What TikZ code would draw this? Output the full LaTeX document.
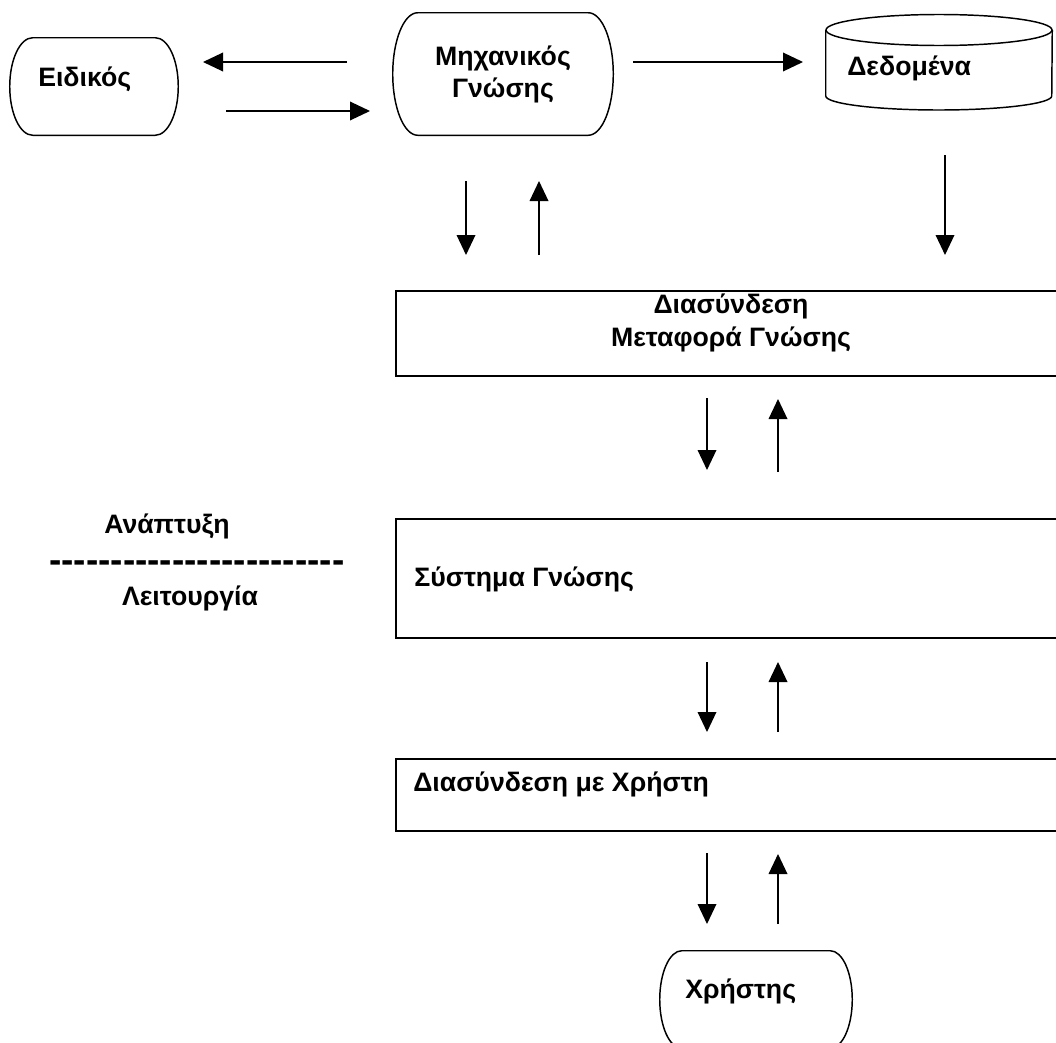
\documentclass[tikz,border=0pt]{standalone}
\usepackage{fontspec}
\setmainfont{Liberation Sans}
\usetikzlibrary{arrows.meta,calc}

% a line of 24 bold hyphens, kept apart so they never join into dashes
\newcommand\hyrule{-\kern0pt-\kern0pt-\kern0pt-\kern0pt-\kern0pt-\kern0pt-\kern0pt-\kern0pt%
-\kern0pt-\kern0pt-\kern0pt-\kern0pt-\kern0pt-\kern0pt-\kern0pt-\kern0pt%
-\kern0pt-\kern0pt-\kern0pt-\kern0pt-\kern0pt-\kern0pt-\kern0pt-}

% terminator outline around a named node: straight top and bottom, half-ellipse sides
\newcommand\termshape[2]{%
  \draw[outline] let \p1=(#1.north), \p2=(#1.south) in
    ([xshift=#2*0.75pt]#1.north west) -- ([xshift=-#2*0.75pt]#1.north east)
    arc[start angle=90, end angle=-90, x radius=#2*0.75pt, y radius={(\y1-\y2)/2}]
    -- ([xshift=#2*0.75pt]#1.south west)
    arc[start angle=270, end angle=90, x radius=#2*0.75pt, y radius={(\y1-\y2)/2}] -- cycle;}

\begin{document}
\begin{tikzpicture}[x=0.75pt,y=0.75pt,
  txt/.style={font=\fontsize{20}{24}\selectfont\bfseries, inner sep=0pt},
  outline/.style={line width=1.1pt},
  boxline/.style={draw, line width=1.7pt, inner sep=0pt, anchor=north west, minimum width=700*0.75pt},
  flow/.style={line width=1pt, -{Triangle[length=15pt,width=14pt]}},
]
\useasboundingbox (0,0) rectangle (1056,-1042);
\clip (0,0) rectangle (1056,-1042);

% --- top row --------------------------------------------------------------
\node[inner sep=0pt, minimum width=168*0.75pt, minimum height=97*0.75pt] (expert) at (94,-86.5) {};
\termshape{expert}{23}
\node[txt, anchor=base west] (expertT) at (38,-86) {Ειδικός};

\node[inner sep=0pt, minimum width=220*0.75pt, minimum height=122*0.75pt] (engineer) at (503,-74) {};
\termshape{engineer}{25}
\node[txt, anchor=base] (engineerT1) at (503,-65) {Μηχανικός};
\node[txt, anchor=base] (engineerT2) at (503,-97) {Γνώσης};

% data store cylinder
\node[inner sep=0pt, minimum width=226*0.75pt, minimum height=96*0.75pt] (data) at (939,-62) {};
\draw[outline] (data.north west |- 0,-30) -- (data.south west |- 0,-96)
  arc[start angle=180, end angle=360, x radius=113, y radius=14] -- (data.north east |- 0,-30);
\draw[outline] (939,-30) ellipse[x radius=113, y radius=15.5];
\node[txt, anchor=base west] (dataT) at (847,-75) {Δεδομένα};

% --- boxes ----------------------------------------------------------------
\node[boxline, minimum height=85*0.75pt] (transfer) at (395,-290) {};
\node[txt, anchor=base] (transferT1) at (731,-313) {Διασύνδεση};
\node[txt, anchor=base] (transferT2) at (731,-346) {Μεταφορά Γνώσης};

\node[boxline, minimum height=119*0.75pt] (system) at (395,-518) {};
\node[txt, anchor=base west] (systemT) at (414,-586) {Σύστημα Γνώσης};

\node[boxline, minimum height=72*0.75pt] (ui) at (395,-758) {};
\node[txt, anchor=base west] (uiT) at (413,-791) {Διασύνδεση με Χρήστη};

\node[inner sep=0pt, minimum width=192*0.75pt, minimum height=97*0.75pt] (user) at (756,-999.5) {};
\termshape{user}{22}
\node[txt, anchor=base west] (userT) at (685,-998) {Χρήστης};

% --- phase labels -----------------------------------------------------------
\node[txt, anchor=base] (devT) at (167,-533) {Ανάπτυξη};
\node[inner sep=0pt, anchor=base west, font=\fontsize{27.7}{30}\selectfont\bfseries] (sep) at (49,-572) {\hyrule};
\node[txt, anchor=base] (opT) at (190,-605) {Λειτουργία};

% --- arrow end points ---------------------------------------------------------
\coordinate (s1) at (347,-62);  \coordinate (t1) at (203,-62);
\coordinate (s2) at (226,-111); \coordinate (t2) at (370,-111);
\coordinate (s3) at (633,-62);  \coordinate (t3) at (803,-62);
\coordinate (s4) at (466,-181); \coordinate (t4) at (466,-255);
\coordinate (s5) at (539,-255); \coordinate (t5) at (539,-181);
\coordinate (s6) at (945,-155); \coordinate (t6) at (945,-255);
\coordinate (s7) at (707,-398); \coordinate (t7) at (707,-470);
\coordinate (s8) at (778,-472); \coordinate (t8) at (778,-399);
\coordinate (s9) at (707,-662); \coordinate (t9) at (707,-732);
\coordinate (s10) at (778,-732); \coordinate (t10) at (778,-662);
\coordinate (s11) at (707,-853); \coordinate (t11) at (707,-924);
\coordinate (s12) at (778,-924); \coordinate (t12) at (778,-854);

\foreach \k in {1,...,12} { \draw[flow] (s\k) -- (t\k); }
\end{tikzpicture}
\end{document}
